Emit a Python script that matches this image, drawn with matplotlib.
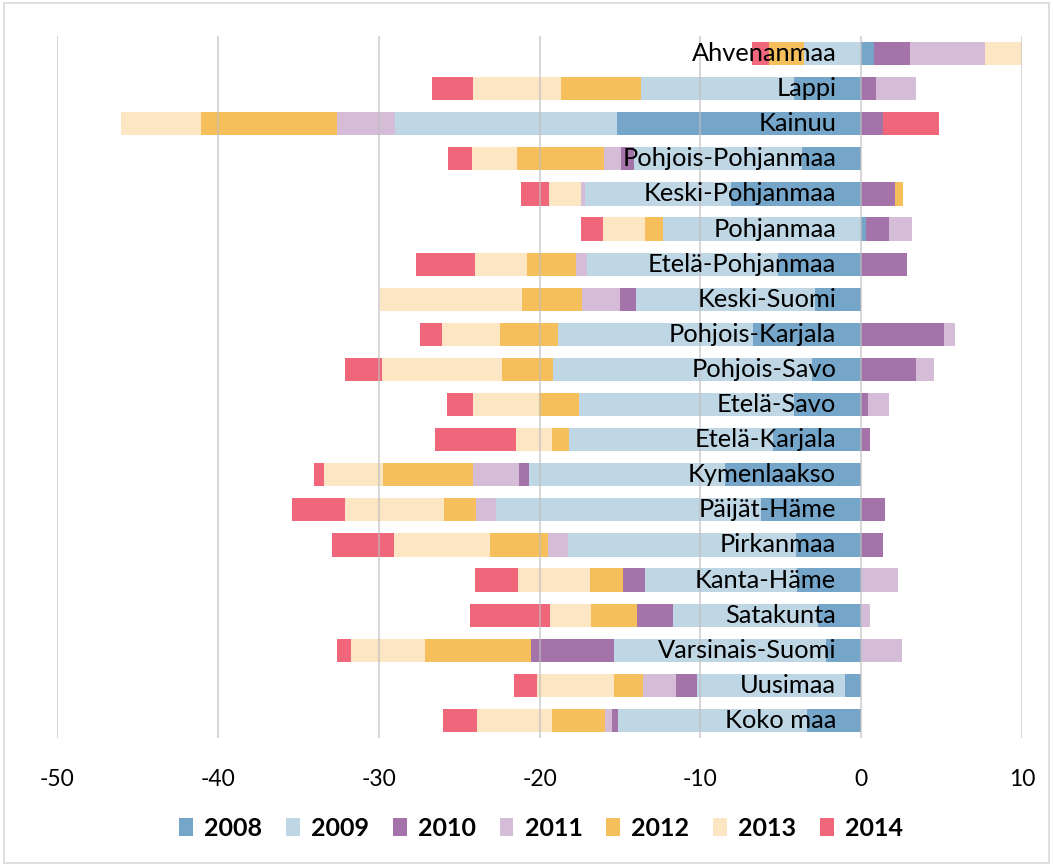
import matplotlib
matplotlib.use("Agg")
import matplotlib.pyplot as plt
import numpy as np
from matplotlib.patches import Rectangle

regions = ["Ahvenanmaa", "Lappi", "Kainuu", "Pohjois-Pohjanmaa", "Keski-Pohjanmaa",
           "Pohjanmaa", "Etelä-Pohjanmaa", "Keski-Suomi", "Pohjois-Karjala", "Pohjois-Savo",
           "Etelä-Savo", "Etelä-Karjala", "Kymenlaakso", "Päijät-Häme", "Pirkanmaa",
           "Kanta-Häme", "Satakunta", "Varsinais-Suomi", "Uusimaa", "Koko maa"]

years = ["2008", "2009", "2010", "2011", "2012", "2013", "2014"]

v2008 = [0.80, -4.15, -15.18, -3.67, -8.07, 0.27, -5.15, -2.84, -6.70, -3.03,
         -4.19, -5.48, -8.44, -6.20, -4.04, -3.96, -2.68, -2.18, -0.98, -3.39]
v2009 = [-3.57, -9.54, -13.78, -10.45, -9.09, -12.35, -11.90, -11.16, -12.13, -16.16,
         -13.38, -12.66, -12.20, -16.49, -14.21, -9.46, -9.05, -13.17, -9.21, -11.76]
v2010 = [2.26, 0.91, 1.34, -0.79, 2.13, 1.43, 2.82, -0.98, 5.18, 3.42,
         0.44, 0.52, -0.64, 1.49, 1.33, -1.41, -2.20, -5.16, -1.33, -0.35]
v2011 = [4.62, 2.47, -3.63, -1.10, -0.27, 1.47, -0.71, -2.38, 0.68, 1.10,
         1.26, 0.0, -2.84, -1.24, -1.22, 2.26, 0.58, 2.55, -2.05, -0.40]
v2012 = [-2.15, -4.96, -8.46, -5.41, 0.50, -1.06, -3.02, -3.72, -3.65, -3.13,
         -2.46, -1.06, -5.62, -2.03, -3.61, -2.03, -2.86, -6.64, -1.79, -3.32]
v2013 = [2.43, -5.48, -4.98, -2.78, -1.95, -2.63, -3.26, -8.84, -3.61, -7.45,
         -4.13, -2.26, -3.67, -6.14, -5.97, -4.46, -2.57, -4.60, -4.79, -4.65]
v2014 = [-1.08, -2.55, 3.51, -1.49, -1.78, -1.37, -3.61, 0.0, -1.33, -2.32,
         -1.59, -5.04, -0.60, -3.26, -3.86, -2.69, -4.94, -0.85, -1.43, -2.12]

series = [v2008, v2009, v2010, v2011, v2012, v2013, v2014]
colors = ["#75A6CA", "#BFD6E5", "#A473A9", "#D5BCD7", "#F5BF5B", "#FCE6C3", "#F0667A"]

xticks = [-50, -40, -30, -20, -10, 0, 10]

fig = plt.figure(figsize=(10.53, 8.66), dpi=100)
ax = fig.add_axes([57/1053, 1 - 738/866, (1022-57)/1053, (738-36)/866])

y = np.arange(len(regions))
pos_left = np.zeros(len(regions))
neg_left = np.zeros(len(regions))
for vals, col, yr in zip(series, colors, years):
    vals = np.array(vals)
    left = np.where(vals >= 0, pos_left, neg_left)
    ax.barh(y, vals, left=left, height=0.66, color=col, label=yr, zorder=2, linewidth=0)
    pos_left += np.where(vals > 0, vals, 0)
    neg_left += np.where(vals < 0, vals, 0)

for i, r in enumerate(regions):
    ax.text(-1.55, i, r, ha="right", va="center", fontsize=18.3, family="Lato",
            color="black", zorder=4)

ax.set_xlim(-50, 10)
ax.set_ylim(len(regions) - 0.5, -0.5)
ax.set_xticks(xticks)
ax.set_xticklabels([str(t) for t in xticks], fontsize=16.5, family="Lato")
ax.set_yticks([])
ax.tick_params(axis="x", length=0, pad=22)
for s in ax.spines.values():
    s.set_visible(False)
ax.grid(axis="x", color="#bfbfbf", linewidth=1.5, alpha=0.6, zorder=3)
ax.set_axisbelow(False)

handles, labels = ax.get_legend_handles_labels()
leg = fig.legend(handles, labels, loc="center", bbox_to_anchor=(541/1053, 1 - 828/866),
                 ncol=7, frameon=False, prop={"family": "Lato", "weight": "bold", "size": 18},
                 handlelength=0.55, handleheight=0.75, handletextpad=0.45, columnspacing=0.95)

fig.patches.append(Rectangle((0.004, 0.004), 0.992, 0.992, transform=fig.transFigure,
                             fill=False, edgecolor="#d9d9d9", linewidth=1.2))

fig.savefig("out.png", dpi=100, facecolor="white")
